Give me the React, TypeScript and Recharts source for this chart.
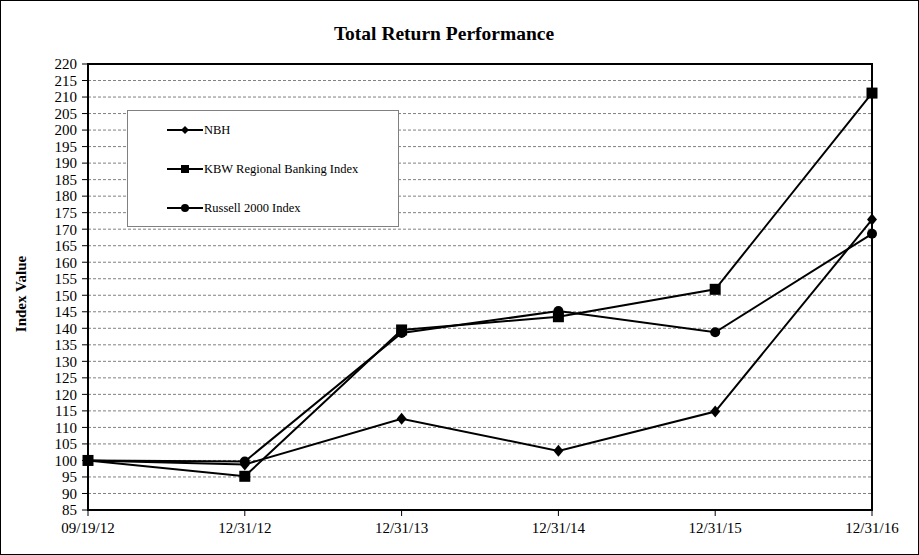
import React from "react"
import {
    LineChart,
    Line,
    XAxis,
    YAxis,
    CartesianGrid,
    ReferenceArea,
} from "recharts"

const dates = ["09/19/12", "12/31/12", "12/31/13", "12/31/14", "12/31/15", "12/31/16"]
const nbh = [100, 98.8, 112.6, 102.9, 114.8, 172.9]
const kbw = [100, 95.2, 139.5, 143.5, 151.8, 211.2]
const russell = [100, 99.7, 138.6, 145.2, 138.8, 168.6]
const yTicks = [85, 90, 95, 100, 105, 110, 115, 120, 125, 130, 135, 140, 145, 150, 155, 160, 165, 170, 175, 180, 185, 190, 195, 200, 205, 210, 215, 220]

const data = dates.map((d, i) => ({ date: d, nbh: nbh[i], kbw: kbw[i], russell: russell[i] }))

const FONT = "'Liberation Serif', 'Times New Roman', serif"

const Diamond = (props: any) => {
    const { cx, cy, index } = props
    return <path key={"d" + index} d={`M${cx},${cy - 6}L${cx + 5},${cy}L${cx},${cy + 6}L${cx - 5},${cy}Z`} fill="#000" />
}
const Square = (props: any) => {
    const { cx, cy, index } = props
    return <rect key={"s" + index} x={cx - 5.5} y={cy - 5.5} width={11} height={11} fill="#000" />
}
const Dot = (props: any) => {
    const { cx, cy, index } = props
    return <circle key={"c" + index} cx={cx} cy={cy} r={5} fill="#000" />
}

function LegendRow({ label, marker }: { label: string; marker: React.ReactNode }) {
    return (
        <div style={{ display: "flex", alignItems: "center", height: 20 }}>
            <svg width={36} height={14}>
                <line x1={0} y1={7} x2={36} y2={7} stroke="#000" strokeWidth={2} />
                {marker}
            </svg>
            <span style={{ marginLeft: 1 }}>{label}</span>
        </div>
    )
}

export default function App() {
    return (
        <div
            style={{
                position: "absolute",
                left: 0,
                top: 0,
                width: 919,
                height: 555,
                boxSizing: "border-box",
                border: "1px solid #000",
                background: "#fff",
                fontFamily: FONT,
            }}
        >
            <div
                style={{
                    position: "absolute",
                    left: 0,
                    width: 886,
                    top: 21,
                    textAlign: "center",
                    fontWeight: "bold",
                    fontSize: 19.5,
                    lineHeight: "24px",
                }}
            >
                Total Return Performance
            </div>
            <div
                style={{
                    position: "absolute",
                    left: 20,
                    top: 293,
                    transform: "translate(-50%, -50%) rotate(-90deg)",
                    fontWeight: "bold",
                    fontSize: 15,
                    whiteSpace: "nowrap",
                }}
            >
                Index Value
            </div>
            <LineChart
                width={917}
                height={553}
                data={data}
                margin={{ top: 63, right: 46, left: 37, bottom: 14 }}
                style={{ position: "absolute", left: 0, top: 0 }}
            >
                <CartesianGrid vertical={false} stroke="#808080" strokeDasharray="3 2" />
                <XAxis
                    dataKey="date"
                    height={30}
                    padding={{ left: 0, right: 0 }}
                    axisLine={{ stroke: "#000", strokeWidth: 2 }}
                    tickLine={{ stroke: "#000" }}
                    tickSize={6}
                    tickMargin={6}
                    tick={{ fill: "#000", fontSize: 15, fontFamily: FONT }}
                    interval={0}
                />
                <YAxis
                    width={50}
                    domain={[85, 220]}
                    ticks={yTicks}
                    interval={0}
                    axisLine={{ stroke: "#000", strokeWidth: 2 }}
                    tickLine={{ stroke: "#000" }}
                    tickSize={6}
                    tickMargin={5}
                    tick={{ fill: "#000", fontSize: 15, fontFamily: FONT }}
                />
                <ReferenceArea
                    x1={dates[0]}
                    x2={dates[dates.length - 1]}
                    y1={85}
                    y2={220}
                    fill="none"
                    fillOpacity={0}
                    stroke="#000"
                    strokeWidth={2}
                />
                <Line dataKey="nbh" stroke="#000" strokeWidth={2} dot={Diamond} isAnimationActive={false} />
                <Line dataKey="kbw" stroke="#000" strokeWidth={2} dot={Square} isAnimationActive={false} />
                <Line dataKey="russell" stroke="#000" strokeWidth={2} dot={Dot} isAnimationActive={false} />
            </LineChart>
            <div
                style={{
                    position: "absolute",
                    left: 126,
                    top: 109,
                    width: 272,
                    height: 117,
                    boxSizing: "border-box",
                    border: "1px solid #808080",
                    background: "#fff",
                    fontSize: 12.5,
                    paddingLeft: 39,
                    paddingTop: 9,
                    display: "flex",
                    flexDirection: "column",
                    gap: 19,
                }}
            >
                <LegendRow label="NBH" marker={<path d="M18,3L22,7L18,11L14,7Z" fill="#000" />} />
                <LegendRow label="KBW Regional Banking Index" marker={<rect x={14} y={3} width={8} height={8} fill="#000" />} />
                <LegendRow label="Russell 2000 Index" marker={<circle cx={18} cy={7} r={4} fill="#000" />} />
            </div>
        </div>
    )
}
